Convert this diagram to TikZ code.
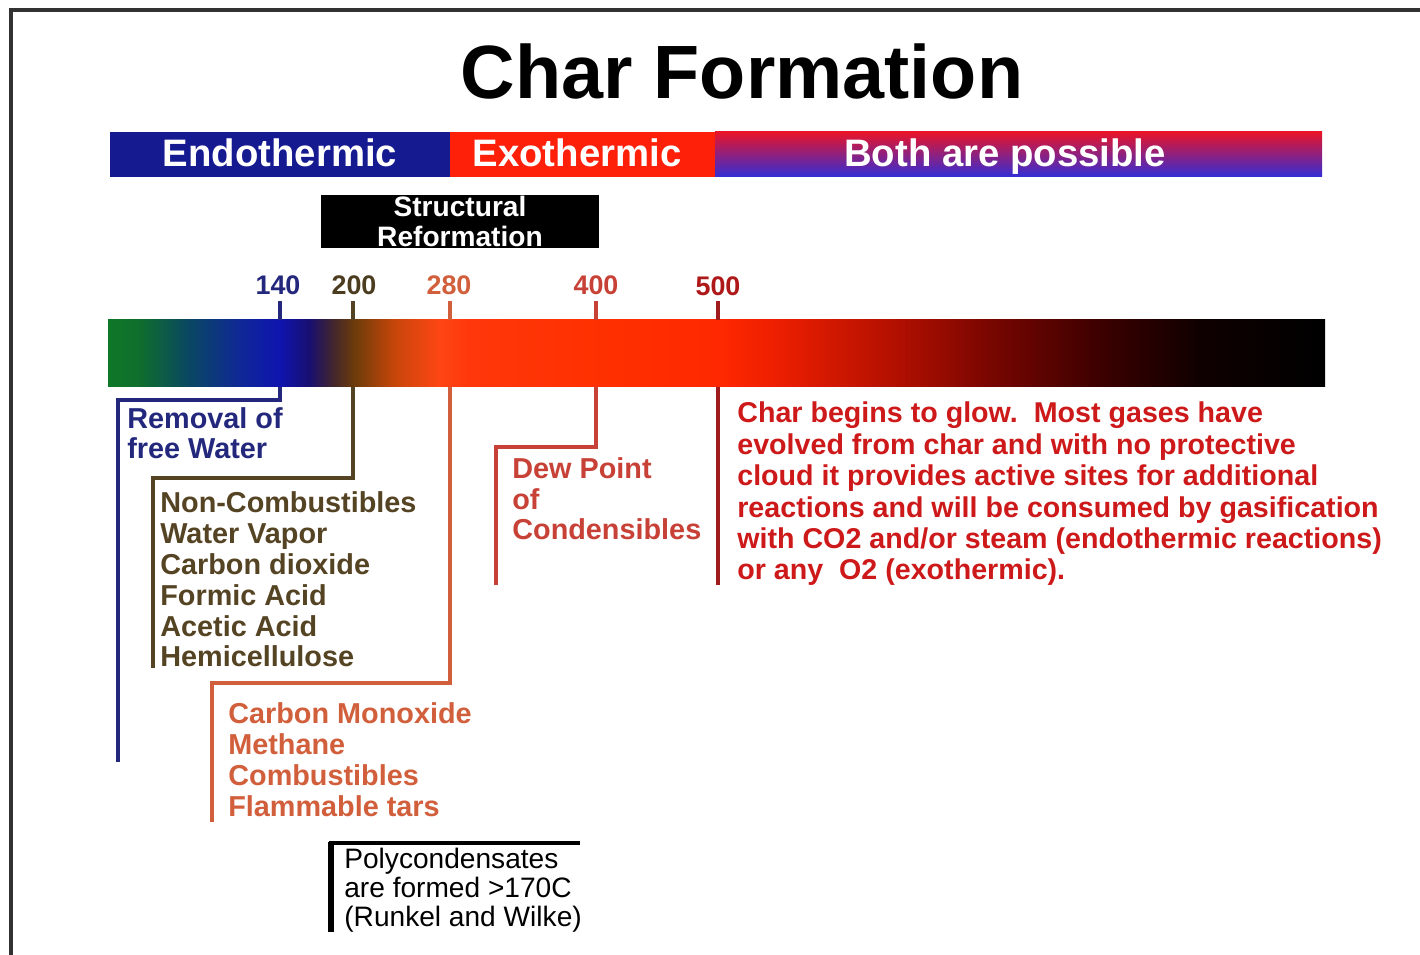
\documentclass[tikz,border=0pt]{standalone}
\usepackage{fontspec}
\setmainfont{Liberation Sans}
\definecolor{framegray}{RGB}{50,50,50}
\definecolor{endoblue}{RGB}{22,26,145}
\definecolor{exored}{RGB}{255,32,10}
\definecolor{bothtop}{RGB}{232,20,40}
\definecolor{bothmid}{RGB}{130,30,140}
\definecolor{bothbot}{RGB}{50,45,215}
\definecolor{c140}{RGB}{35,40,125}
\definecolor{c200}{RGB}{85,68,35}
\definecolor{c280}{RGB}{210,95,60}
\definecolor{c400}{RGB}{200,65,55}
\definecolor{c500}{RGB}{160,28,28}
\definecolor{chartext}{RGB}{205,25,25}
% gradient bar stops
\definecolor{g0}{RGB}{15,120,40}
\definecolor{g1}{RGB}{15,110,45}
\definecolor{g2}{RGB}{10,70,100}
\definecolor{g3}{RGB}{15,40,150}
\definecolor{g4}{RGB}{15,20,175}
\definecolor{g5}{RGB}{25,15,110}
\definecolor{g6}{RGB}{70,40,40}
\definecolor{g7}{RGB}{110,60,10}
\definecolor{g8}{RGB}{200,70,10}
\definecolor{g9}{RGB}{255,70,20}
\definecolor{g10}{RGB}{255,55,10}
\definecolor{g11}{RGB}{255,48,0}
\definecolor{g12}{RGB}{255,40,0}
\definecolor{g13}{RGB}{235,30,0}
\definecolor{g14}{RGB}{175,15,0}
\definecolor{g15}{RGB}{115,5,0}
\definecolor{g16}{RGB}{60,0,0}
\definecolor{g17}{RGB}{15,0,0}
\definecolor{g18}{RGB}{0,0,0}
\pgfdeclarehorizontalshading{charbar}{100bp}{
 color(0bp)=(g0); color(25bp)=(g0); color(26.31bp)=(g1); color(28.37bp)=(g2);
 color(30.42bp)=(g3); color(32.07bp)=(g4); color(33.30bp)=(g5); color(34.33bp)=(g6);
 color(35.15bp)=(g7); color(36.79bp)=(g8); color(38.64bp)=(g9); color(39.87bp)=(g10);
 color(45.21bp)=(g11); color(50.14bp)=(g12); color(52.61bp)=(g13); color(57.54bp)=(g14);
 color(61.65bp)=(g15); color(65.76bp)=(g16); color(69.86bp)=(g17); color(75bp)=(g18);
 color(100bp)=(g18)}
\tikzset{
  txt/.style={anchor=base west, inner sep=0pt, align=left,
    font=\fontsize{16.4}{17.6}\selectfont\bfseries},
  barlabel/.style={anchor=base, inner sep=0pt, text=white,
    font=\fontsize{21.8}{24}\selectfont\bfseries},
  ticklabel/.style={anchor=base, inner sep=0pt,
    font=\fontsize{15.3}{17}\selectfont\bfseries},
  conn/.style={line width=2pt},
  tickmark/.style={line width=2pt}
}
\begin{document}
\begin{tikzpicture}[x=0.02cm,y=-0.02cm]
\useasboundingbox (0,0) rectangle (1420,955);
\fill[white] (0,0) rectangle (1420,955);
\draw[framegray, line width=2.2pt] (11,955) -- (11,10) -- (1420,10);

\node[anchor=base, inner sep=0pt, font=\fontsize{43}{48}\selectfont\bfseries] (title) at (742,99) {Char Formation};

% top phase bar
\fill[endoblue] (110,132) rectangle (450,177);
\fill[exored] (450,132) rectangle (715,177);
\shade[top color=bothtop, middle color=bothmid, bottom color=bothbot] (715,132) rectangle (1322,177);
\node[barlabel] (endo) at (280,167) {Endothermic};
\node[barlabel] (exo) at (577,167) {Exothermic};
\node[barlabel] (both) at (1005,167) {Both are possible};

% structural reformation box
\node[fill=black, text=white, inner sep=0pt, minimum width=5.56cm, minimum height=1.06cm,
  align=center, font=\fontsize{16}{17}\selectfont\bfseries] (struct) at (460,221.5) {Structural\\Reformation};

% tick labels
\node[ticklabel, text=c140] (l140) at (278,295) {140};
\node[ticklabel, text=c200!90!black] (l200) at (354,295) {200};
\node[ticklabel, text=c280] (l280) at (449,295) {280};
\node[ticklabel, text=c400] (l400) at (596,295) {400};
\node[ticklabel, text=c500!85!red] (l500) at (718,296) {500};

\coordinate (t140) at (280,301); \coordinate (t200) at (353,301);
\coordinate (t280) at (450,301); \coordinate (t400) at (596,301);
\coordinate (t500) at (718,301);
\coordinate (b140) at (280,387); \coordinate (b200) at (353,387);
\coordinate (b280) at (450,387); \coordinate (b400) at (596,387);
\coordinate (b500) at (718,387);

% gradient temperature bar
\shade[shading=charbar] (108,320) rectangle (1325,387);
\draw[tickmark, c140] (t140) -- (280,320);
\draw[tickmark, c200] (t200) -- (353,320);
\draw[tickmark, c280] (t280) -- (450,320);
\draw[tickmark, c400] (t400) -- (596,320);
\draw[tickmark, c500] (t500) -- (718,320);

% connectors
\coordinate (e140) at (118,762);
\coordinate (e200) at (153,668);
\coordinate (e280) at (212,822);
\coordinate (e400) at (496,585);
\coordinate (e500) at (718,585);
\draw[conn, c140] (b140) -- (280,400) -| (e140);
\draw[conn, c200] (b200) -- (353,478) -| (e200);
\draw[conn, c280] (b280) -- (450,683) -| (e280);
\draw[conn, c400] (b400) -- (596,447) -| (e400);
\draw[conn, c500] (b500) -- (e500);

% texts (anchor = baseline of the last line)
\node[txt, text=c140] (water) at (127,459) {Removal of\\free Water};
\node[txt, text=c200] (noncomb) at (160,667) {Non-Combustibles\\Water Vapor\\Carbon dioxide\\Formic Acid\\Acetic Acid\\Hemicellulose};
\node[txt, text=c280] (comb) at (228,816) {Carbon Monoxide\\Methane\\Combustibles\\Flammable tars};
\node[txt, text=c400] (dew) at (512,540) {Dew Point\\of\\Condensibles};
\node[txt, text=chartext, font=\fontsize{16.3}{17.9}\selectfont\bfseries] (glow) at (737,580) {Char begins to glow.\ \ Most gases have\\evolved from char and with no protective\\cloud it provides active sites for additional\\reactions and will be consumed by gasification\\with CO2 and/or steam (endothermic reactions)\\or any\ \ O2 (exothermic).};

% polycondensates box
\draw[line width=3.4pt] (331,932) -- (331,842);
\draw[line width=2.3pt] (329,843) -- (580,843);
\node[anchor=base west, inner sep=0pt, align=left, font=\fontsize{16}{16.4}\selectfont] (poly) at (344,926) {Polycondensates\\are formed >170C\\(Runkel and Wilke)};
\end{tikzpicture}
\end{document}
